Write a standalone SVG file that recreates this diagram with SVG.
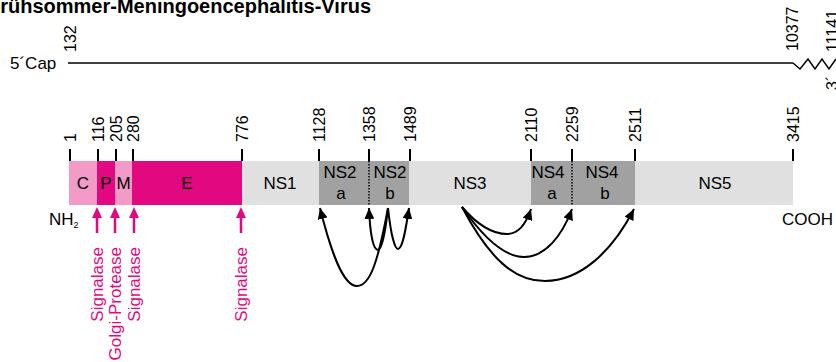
<svg xmlns="http://www.w3.org/2000/svg" width="836" height="362" viewBox="0 0 836 362">
  <style>
    text { font-family: "Liberation Sans", Arial, sans-serif; fill: #000; }
    .title { font-size: 20px; font-weight: bold; }
    .lbl { font-size: 17px; }
    .seg { font-size: 17px; text-anchor: middle; }
    .num { font-size: 16px; }
    .enz { font-size: 17px; fill: #e2087f; text-anchor: end; }
    .tick { stroke: #000; stroke-width: 2; }
    .rna { stroke: #000; stroke-width: 1.5; fill: none; }
    .dot { stroke: #000; stroke-width: 1.5; stroke-dasharray: 1.5 1.5; }
    .pink-arrow { stroke: #e2087f; stroke-width: 2.5; }
    .cut { stroke: #000; stroke-width: 2; fill: none; marker-end: url(#blackHead); }
  </style>
  <defs>
    <marker id="blackHead" markerUnits="userSpaceOnUse" markerWidth="12" markerHeight="10" refX="11" refY="5" orient="auto">
      <path d="M0,0 L11,5 L0,10 Z" fill="#000"/>
    </marker>
    <path id="pinkHead" d="M-5,11 L0,0 L5,11 Z" fill="#e2087f"/>
  </defs>

  <!-- title -->
  <text class="title" x="-12" y="13">Frühsommer-Meningoencephalitis-Virus</text>

  <!-- genomic RNA -->
  <g id="rna">
    <text class="lbl" x="10" y="69">5´Cap</text>
    <line class="rna" x1="68" y1="63" x2="793" y2="63"/>
    <polyline class="rna" points="793,63 800,69 808,59 815,69 822,59 829,69 836,59"/>
    <text class="num" transform="translate(75.5,52) rotate(-90)">132</text>
    <text class="num" transform="translate(798,51) rotate(-90)">10377</text>
    <text class="num" transform="translate(838,52) rotate(-90)">11141</text>
    <text class="num" transform="translate(838,90) rotate(-90)">3´</text>
  </g>

  <!-- polyprotein segments -->
  <g id="C"><rect x="69" y="161" width="28" height="44" fill="#f29bc6"/><text class="seg" x="83" y="189">C</text></g>
  <g id="P"><rect x="97" y="161" width="18" height="44" fill="#e2087f"/><text class="seg" x="106" y="189">P</text></g>
  <g id="M"><rect x="115" y="161" width="17" height="44" fill="#f29bc6"/><text class="seg" x="123.5" y="189">M</text></g>
  <g id="E"><rect x="132" y="161" width="110" height="44" fill="#e2087f"/><text class="seg" x="187" y="189">E</text></g>
  <g id="NS1"><rect x="242" y="161" width="77" height="44" fill="#e0e0e0"/><text class="seg" x="280" y="189">NS1</text></g>
  <g id="NS2a"><rect x="319" y="161" width="50" height="44" fill="#a1a1a1"/><text class="seg" x="340" y="178">NS2</text><text class="seg" x="341" y="199">a</text></g>
  <g id="NS2b"><rect x="369" y="161" width="40" height="44" fill="#a1a1a1"/><text class="seg" x="390" y="178">NS2</text><text class="seg" x="390" y="199">b</text></g>
  <g id="NS3"><rect x="409" y="161" width="122" height="44" fill="#e0e0e0"/><text class="seg" x="470" y="189">NS3</text></g>
  <g id="NS4a"><rect x="531" y="161" width="41" height="44" fill="#a1a1a1"/><text class="seg" x="548" y="178">NS4</text><text class="seg" x="552" y="199">a</text></g>
  <g id="NS4b"><rect x="572" y="161" width="63" height="44" fill="#a1a1a1"/><text class="seg" x="602" y="178">NS4</text><text class="seg" x="605" y="199">b</text></g>
  <g id="NS5"><rect x="635" y="161" width="158" height="44" fill="#e0e0e0"/><text class="seg" x="715" y="189">NS5</text></g>
  <line class="dot" x1="369" y1="161" x2="369" y2="205"/>
  <line class="dot" x1="572" y1="161" x2="572" y2="205"/>

  <!-- termini -->
  <text class="lbl" x="49" y="225">NH<tspan font-size="9" dy="3">2</tspan></text>
  <text class="lbl" x="782" y="225">COOH</text>

  <!-- amino-acid positions -->
  <g id="ticks">
    <line class="tick" x1="70" y1="149" x2="70" y2="161"/>
    <line class="tick" x1="98" y1="149" x2="98" y2="161"/>
    <line class="tick" x1="116" y1="149" x2="116" y2="161"/>
    <line class="tick" x1="133" y1="149" x2="133" y2="161"/>
    <line class="tick" x1="242" y1="149" x2="242" y2="161"/>
    <line class="tick" x1="319" y1="149" x2="319" y2="161"/>
    <line class="tick" x1="369" y1="149" x2="369" y2="161"/>
    <line class="tick" x1="410" y1="149" x2="410" y2="161"/>
    <line class="tick" x1="531" y1="149" x2="531" y2="161"/>
    <line class="tick" x1="572" y1="149" x2="572" y2="161"/>
    <line class="tick" x1="635" y1="149" x2="635" y2="161"/>
    <line class="tick" x1="793" y1="149" x2="793" y2="161"/>
    <text class="num" transform="translate(75.5,142) rotate(-90)">1</text>
    <text class="num" transform="translate(103.5,142) rotate(-90)">116</text>
    <text class="num" transform="translate(121.5,142) rotate(-90)">205</text>
    <text class="num" transform="translate(138.5,142) rotate(-90)">280</text>
    <text class="num" transform="translate(247.5,142) rotate(-90)">776</text>
    <text class="num" transform="translate(324.5,142) rotate(-90)">1128</text>
    <text class="num" transform="translate(374.5,142) rotate(-90)">1358</text>
    <text class="num" transform="translate(415.5,142) rotate(-90)">1489</text>
    <text class="num" transform="translate(536.5,142) rotate(-90)">2110</text>
    <text class="num" transform="translate(577.5,142) rotate(-90)">2259</text>
    <text class="num" transform="translate(640.5,142) rotate(-90)">2511</text>
    <text class="num" transform="translate(798.5,142) rotate(-90)">3415</text>
  </g>

  <!-- host protease cleavage sites -->
  <g id="host-cleavage">
    <line class="pink-arrow" x1="97" y1="233" x2="97" y2="214"/>
    <line class="pink-arrow" x1="115" y1="233" x2="115" y2="214"/>
    <line class="pink-arrow" x1="134" y1="233" x2="134" y2="214"/>
    <line class="pink-arrow" x1="241" y1="233" x2="241" y2="214"/>
    <use href="#pinkHead" x="97" y="207"/>
    <use href="#pinkHead" x="115" y="207"/>
    <use href="#pinkHead" x="134" y="207"/>
    <use href="#pinkHead" x="241" y="207"/>
    <text class="enz" transform="translate(103,247) rotate(-90)">Signalase</text>
    <text class="enz" transform="translate(121,247) rotate(-90)">Golgi-Protease</text>
    <text class="enz" transform="translate(140,247) rotate(-90)">Signalase</text>
    <text class="enz" transform="translate(247,247) rotate(-90)">Signalase</text>
  </g>

  <!-- viral NS2B/NS3 protease cleavage sites -->
  <g id="connectors">
    <path class="cut" d="M388,208 C378,262 370,286 357,286 C343,286 331,252 320,208"/>
    <path class="cut" d="M388,208 C385,236 381,250 378,250 C373,250 370,233 369,208"/>
    <path class="cut" d="M388,208 C391,236 395,249 398,249 C402,249 405,235 409,208"/>
    <path class="cut" d="M462,207 C480,228 495,234 507,234 C518,234 526,224 531,209"/>
    <path class="cut" d="M462,207 C485,240 505,257 524,257 C545,257 562,236 572,209"/>
    <path class="cut" d="M462,207 C490,260 515,281 545,281 C580,281 612,252 634,209"/>
  </g>
</svg>
